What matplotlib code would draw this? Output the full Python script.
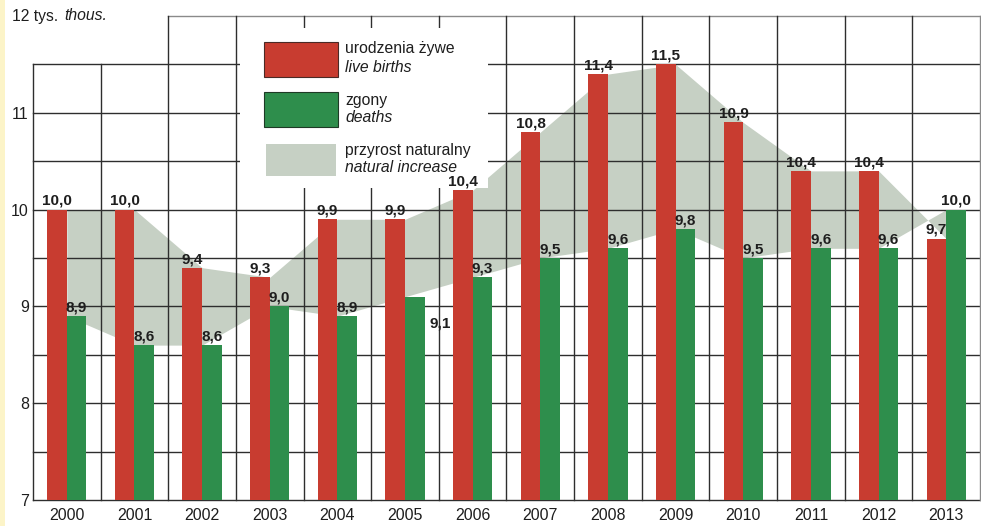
import matplotlib
matplotlib.use("Agg")
import matplotlib.pyplot as plt
from matplotlib.patches import Rectangle
import numpy as np

plt.rcParams['font.family'] = ['Liberation Sans', 'DejaVu Sans']

years = [2000, 2001, 2002, 2003, 2004, 2005, 2006, 2007, 2008, 2009, 2010, 2011, 2012, 2013]
# bar heights as drawn in the reference (the 2006 bar is drawn at about 10.2)
births = [10.0, 10.0, 9.4, 9.3, 9.9, 9.9, 10.2, 10.8, 11.4, 11.5, 10.9, 10.4, 10.4, 9.7]
deaths = [8.9, 8.6, 8.6, 9.0, 8.9, 9.1, 9.3, 9.5, 9.6, 9.8, 9.5, 9.6, 9.6, 10.0]
# value labels printed in the reference
birth_labels = ["10,0", "10,0", "9,4", "9,3", "9,9", "9,9", "10,4", "10,8", "11,4", "11,5",
                "10,9", "10,4", "10,4", "9,7"]
death_labels = ["8,9", "8,6", "8,6", "9,0", "8,9", "9,1", "9,3", "9,5", "9,6", "9,8",
                "9,5", "9,6", "9,6", "10,0"]
y_ticks = [7, 8, 9, 10, 11]

RED = '#c83c30'
GREEN = '#2e8e4c'
BAND = '#c6d0c4'
GRID = '#2e2e2e'
LIGHT = '#8a8a8a'
TXT = '#1e1e1e'

W, H = 981, 526
fig = plt.figure(figsize=(W / 100, H / 100), dpi=100)
fig.patch.set_facecolor('white')
fig.patches.append(Rectangle((0, 0), 5 / W, 1, transform=fig.transFigure,
                             facecolor='#fcf4c8', edgecolor='none', zorder=0))

L, R, T, B = 33, 980, 16, 500
ax = fig.add_axes([L / W, 1 - B / H, (R - L) / W, (B - T) / H])
ax.set_xlim(-0.5, len(years) - 0.5)
ax.set_ylim(7, 12)
for s in ax.spines.values():
    s.set_visible(False)
ax.set_facecolor('none')

x = np.arange(len(years))

# band
ax.fill_between(x, births, deaths, color=BAND, linewidth=0, zorder=1)

# grid
n = len(years)
for yv in np.arange(7, 12.01, 0.5):
    if yv >= 12:
        ax.plot([1.5, n - 0.5], [yv, yv], color=LIGHT, lw=1.0, zorder=2, clip_on=False)
    else:
        ax.plot([-0.5, n - 0.5], [yv, yv], color=GRID, lw=1.0, zorder=2, clip_on=False)
for xv in np.arange(-0.5, n, 1.0):
    top = 11.5 if xv < 1 else 12
    col = LIGHT if xv == n - 0.5 else GRID
    ax.plot([xv, xv], [7, top], color=col, lw=1.0, zorder=2, clip_on=False)

# bars
bw = 0.29
ax.bar(x - bw / 2, births, width=bw, bottom=0, color=RED, zorder=3, linewidth=0)
ax.bar(x + bw / 2, deaths, width=bw, bottom=0, color=GREEN, zorder=3, linewidth=0)

lab_kw = dict(fontsize=11, fontweight='bold', color=TXT, zorder=7,
              ha='center', va='bottom', textcoords='offset points')
for i in range(n):
    ax.annotate(birth_labels[i], (x[i] - bw / 2, births[i]), xytext=(0, 1.2), **lab_kw)
    if years[i] == 2005:
        ax.annotate(death_labels[i], (x[i] + bw / 2, deaths[i]), xytext=(18, -24), **lab_kw)
    else:
        ax.annotate(death_labels[i], (x[i] + bw / 2, deaths[i]), xytext=(0, 1.2), **lab_kw)

# ticks
ax.set_xticks(x)
ax.set_xticklabels([str(y) for y in years], fontsize=11.5, color=TXT)
ax.set_yticks(y_ticks)
ax.set_yticklabels([str(v) for v in y_ticks], fontsize=11.5, color=TXT)
ax.tick_params(axis='both', length=0)
ax.tick_params(axis='x', pad=6)
ax.tick_params(axis='y', pad=3)

# unit label
fig.text(12 / W, 1 - 16 / H, '12 tys.', fontsize=11.3, color=TXT, va='center', ha='left')
fig.text(64 / W, 1 - 16 / H, 'thous.', fontsize=11.3, color=TXT, va='center', ha='left',
         style='italic')

# legend
def axx(px):
    return (px - L) / (R - L)

def axy(py):
    return (B - py) / (B - T)

ax.add_patch(Rectangle((axx(240), axy(188)), axx(488) - axx(240), axy(28) - axy(188),
                       transform=ax.transAxes, facecolor='white', edgecolor='none', zorder=5))
ax.add_patch(Rectangle((axx(264), axy(77)), axx(338) - axx(264), axy(42) - axy(77),
                       transform=ax.transAxes, facecolor=RED, edgecolor='#4a2a26', lw=0.8, zorder=6))
ax.add_patch(Rectangle((axx(264), axy(127)), axx(338) - axx(264), axy(92) - axy(127),
                       transform=ax.transAxes, facecolor=GREEN, edgecolor='#1e3a26', lw=0.8, zorder=6))
ax.add_patch(Rectangle((axx(266), axy(176)), axx(336) - axx(266), axy(144) - axy(176),
                       transform=ax.transAxes, facecolor=BAND, edgecolor='none', zorder=6))
leg_txt = [("urodzenia żywe", 49, 'normal'), ("live births", 67, 'italic'),
           ("zgony", 100, 'normal'), ("deaths", 117, 'italic'),
           ("przyrost naturalny", 151, 'normal'), ("natural increase", 168, 'italic')]
for t, py, st in leg_txt:
    ax.text(axx(345), axy(py), t, transform=ax.transAxes, fontsize=11.3, style=st,
            color=TXT, va='center', ha='left', zorder=6)

fig.savefig('out.png', dpi=100)
